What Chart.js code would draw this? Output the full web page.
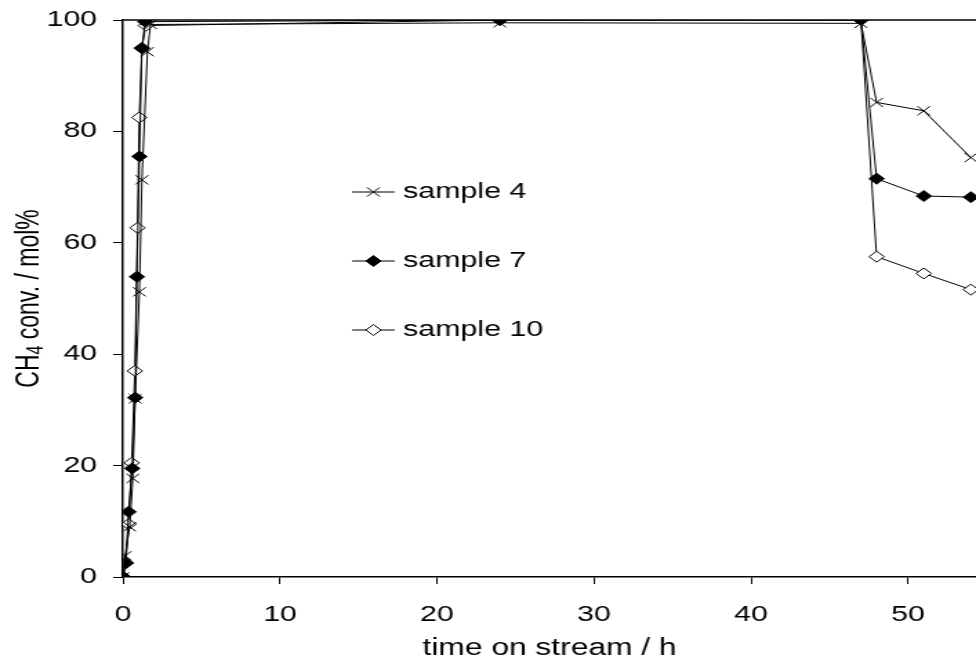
<!DOCTYPE html>
<html>
<head>
<meta charset="utf-8">
<title>CH4 conversion vs time on stream</title>
<script src="https://cdn.jsdelivr.net/npm/chart.js@4.4.1/dist/chart.umd.min.js"></script>
<style>
  html, body { margin: 0; padding: 0; background: #fff; overflow: hidden; }
  #wrap { width: 976px; height: 666px; overflow: hidden; }
  /* the original figure is stretched sideways, so the canvas is too */
  #chart { display: block; transform: scaleX(1.3805); transform-origin: 0 0; }
</style>
</head>
<body>
<div id="wrap"><canvas id="chart" width="707" height="666"></canvas></div>
<script>
'use strict';

// 1. DATA
const X_TICKS = [0, 10, 20, 30, 40, 50];
const Y_TICKS = [0, 20, 40, 60, 80, 100];
const NAMES   = ['sample 4', 'sample 7', 'sample 10'];

const time4  = [0, 0.13, 0.42, 0.62, 0.77, 1.04, 1.2, 1.55, 1.75, 24, 47, 48, 51, 54];
const conv4  = [0, 3.8, 9, 17.7, 32, 51.2, 71.3, 94.3, 99.2, 99.5, 99.4, 85.2, 83.7, 75.3];

const time7  = [0, 0.17, 0.35, 0.58, 0.77, 0.88, 1.04, 1.2, 1.4, 24, 47, 48, 51, 54];
const conv7  = [0, 2.5, 11.7, 19.5, 32.2, 53.9, 75.5, 94.9, 99.7, 100, 100, 71.5, 68.4, 68.2];

const time10 = [0, 0.17, 0.35, 0.55, 0.75, 0.92, 1.03, 1.2, 1.45, 24, 47, 48, 51, 54];
const conv10 = [0, 2.5, 9.5, 20.5, 37, 62.7, 82.5, 95, 99, 100, 100, 57.5, 54.5, 51.6];

const FONT = "'Liberation Sans', Arial, sans-serif";
const pts = (t, v) => t.map((x, i) => ({ x: x, y: v[i] }));

// 2. LEGEND + Y TITLE + TOP BORDER
function drawMarker(ctx, style, x, y, r, fill) {
  ctx.beginPath();
  if (style === 'crossRot') {
    const d = r * Math.SQRT1_2;
    ctx.moveTo(x - d, y - d); ctx.lineTo(x + d, y + d);
    ctx.moveTo(x + d, y - d); ctx.lineTo(x - d, y + d);
    ctx.stroke();
    return;
  }
  ctx.moveTo(x, y - r); ctx.lineTo(x + r, y); ctx.lineTo(x, y + r); ctx.lineTo(x - r, y);
  ctx.closePath();
  ctx.fillStyle = fill;
  ctx.fill();
  ctx.stroke();
}

const overlay = {
  id: 'overlay',
  beforeDatasetsDraw(chart) {
    const { ctx, chartArea: a } = chart;
    ctx.save();
    ctx.strokeStyle = '#000';
    ctx.lineWidth = 1.5;
    ctx.beginPath();
    ctx.moveTo(a.left, a.top);
    ctx.lineTo(a.right, a.top);
    ctx.stroke();
    ctx.restore();
  },
  afterDraw(chart) {
    const { ctx, chartArea: a } = chart;
    ctx.save();
    ctx.strokeStyle = '#000';
    ctx.lineWidth = 1;
    ctx.fillStyle = '#000';
    ctx.font = `22px ${FONT}`;
    ctx.textBaseline = 'middle';
    ctx.textAlign = 'left';

    const rows = [192, 261, 330];
    chart.data.datasets.forEach((ds, i) => {
      const y = rows[i];
      ctx.beginPath();
      ctx.moveTo(255, y); ctx.lineTo(286, y);
      ctx.stroke();
      drawMarker(ctx, ds.pointStyle, 270.5, y, ds.pointRadius, ds.pointBackgroundColor);
      ctx.fillStyle = '#000';
      ctx.fillText(ds.label, 292, y);
    });

    // y axis title with subscript
    const big = `23px ${FONT}`, small = `16px ${FONT}`;
    ctx.translate(21.7, (a.top + a.bottom) / 2);
    ctx.rotate(-Math.PI / 2);
    ctx.font = big;   const w1 = ctx.measureText('CH').width;
    ctx.font = small; const w2 = ctx.measureText('4').width;
    ctx.font = big;   const w3 = ctx.measureText(' conv. / mol%').width;
    let x0 = -(w1 + w2 + w3) / 2;
    ctx.font = big;   ctx.fillText('CH', x0, 0); x0 += w1;
    ctx.font = small; ctx.fillText('4', x0, 5); x0 += w2;
    ctx.font = big;   ctx.fillText(' conv. / mol%', x0, 0);
    ctx.restore();
  }
};

// 3. CHART
new Chart(document.getElementById('chart'), {
  type: 'line',
  data: {
    datasets: [
      {
        label: NAMES[0], data: pts(time4, conv4), order: 1,
        borderColor: '#000', borderWidth: 1,
        pointStyle: 'crossRot', pointRadius: 6.5,
        pointBorderColor: '#000', pointBackgroundColor: '#000', pointBorderWidth: 1,
      },
      {
        label: NAMES[1], data: pts(time7, conv7), order: 0,
        borderColor: '#000', borderWidth: 1,
        pointStyle: 'rectRot', pointRadius: 5.5,
        pointBorderColor: '#000', pointBackgroundColor: '#000', pointBorderWidth: 1,
      },
      {
        label: NAMES[2], data: pts(time10, conv10), order: 2,
        borderColor: '#000', borderWidth: 1,
        pointStyle: 'rectRot', pointRadius: 5.5,
        pointBorderColor: '#000', pointBackgroundColor: '#fff', pointBorderWidth: 1,
      },
    ],
  },
  options: {
    responsive: false,
    devicePixelRatio: 1,
    animation: false,
    layout: { autoPadding: false, padding: { top: 20, right: 0, left: 0, bottom: 0 } },
    plugins: { legend: { display: false }, tooltip: { enabled: false } },
    scales: {
      x: {
        type: 'linear',
        min: 0,
        max: 54.33,
        afterBuildTicks: (s) => { s.ticks = X_TICKS.map((v) => ({ value: v })); },
        afterFit: (s) => { s.height = 89; s.paddingRight = 0; s.paddingLeft = 0; },
        grid: { drawOnChartArea: false, drawTicks: true, tickLength: 7, tickColor: '#000' },
        border: { color: '#000', width: 1.5 },
        ticks: { color: '#000', font: { family: FONT, size: 22 }, padding: 18, maxRotation: 0 },
        title: {
          display: true, text: 'time on stream / h', color: '#000',
          font: { family: FONT, size: 23 }, padding: { top: 0, bottom: 4 },
        },
      },
      y: {
        min: 0,
        max: 100,
        afterBuildTicks: (s) => { s.ticks = Y_TICKS.map((v) => ({ value: v })); },
        afterFit: (s) => { s.width = 89.15; s.paddingTop = 0; s.paddingBottom = 0; },
        grid: { drawOnChartArea: false, drawTicks: true, tickLength: 7.2, tickColor: '#000' },
        border: { color: '#000', width: 1.5 },
        ticks: { color: '#000', font: { family: FONT, size: 22 }, padding: 11.6 },
      },
    },
  },
  plugins: [overlay],
});
</script>
</body>
</html>
